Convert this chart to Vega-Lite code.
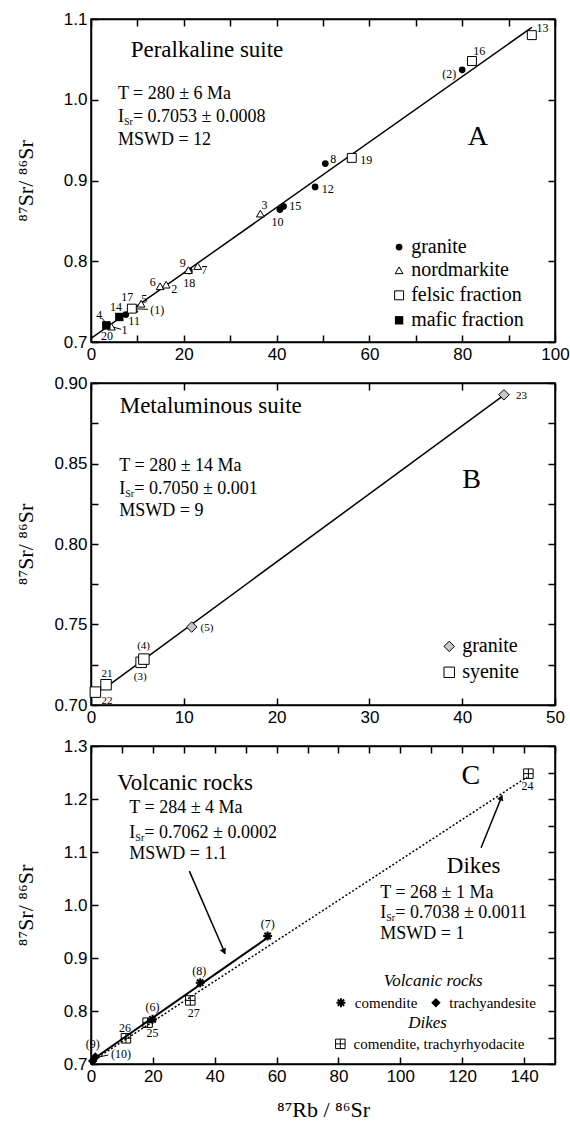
{
  "$schema": "https://vega.github.io/schema/vega-lite/v6.json",
  "padding": {"left": 13, "top": 9, "right": 5, "bottom": 8},
  "spacing": 41,
  "bounds": "flush",
  "config": {
    "view": {"stroke": "black", "strokeWidth": 1.5},
    "axis": {"grid": false, "domainColor": "black", "domainWidth": 1.5, "tickColor": "black", "tickWidth": 1.5, "tickSize": -7, "labelPadding": 11, "labelFont": "Liberation Sans", "labelFontSize": 17, "labelColor": "black", "titleFont": "Liberation Serif", "titleFontSize": 22, "titleFontWeight": "normal", "titleColor": "black", "labelFlush": false, "labelOverlap": false},
    "text": {"font": "Liberation Serif", "color": "black"}
  },
  "datasets": {
    "A": [
      {"g": "fit", "x": 0, "y": 0.7045}, {"g": "fit", "x": 95, "y": 1.0895},
      {"g": "granite", "x": 80.0, "y": 1.037}, {"g": "granite", "x": 50.5, "y": 0.921}, {"g": "granite", "x": 48.3, "y": 0.892}, {"g": "granite", "x": 41.5, "y": 0.868}, {"g": "granite", "x": 40.7, "y": 0.864}, {"g": "granite", "x": 21.2, "y": 0.788}, {"g": "granite", "x": 7.5, "y": 0.734}, {"g": "granite", "x": 66.4, "y": 0.8176},
      {"g": "nord", "x": 36.5, "y": 0.859}, {"g": "nord", "x": 21.0, "y": 0.789}, {"g": "nord", "x": 23.0, "y": 0.794}, {"g": "nord", "x": 14.9, "y": 0.769}, {"g": "nord", "x": 16.2, "y": 0.771}, {"g": "nord", "x": 10.8, "y": 0.7474}, {"g": "nord", "x": 9.3, "y": 0.7413}, {"g": "nord", "x": 3.9, "y": 0.7215}, {"g": "nord", "x": 4.4, "y": 0.719}, {"g": "nord", "x": 66.4, "y": 0.7888},
      {"g": "felsic", "x": 95.0, "y": 1.080}, {"g": "felsic", "x": 82.1, "y": 1.048}, {"g": "felsic", "x": 56.2, "y": 0.928}, {"g": "felsic", "x": 8.8, "y": 0.7413}, {"g": "felsic", "x": 66.4, "y": 0.7578},
      {"g": "mafic", "x": 6.1, "y": 0.731}, {"g": "mafic", "x": 3.3, "y": 0.7206}, {"g": "mafic", "x": 66.4, "y": 0.7269},
      {"g": "lead", "x": 9.9, "y": 0.741, "x2": 12.3, "y2": 0.7405}, {"g": "lead", "x": 4.7, "y": 0.7186, "x2": 6.5, "y2": 0.7157}, {"g": "lead", "x": 2.3, "y": 0.7297, "x2": 3.2, "y2": 0.7239},
      {"g": "lbl", "x": 97.3, "y": 1.0889, "text": "13"}, {"g": "lbl", "x": 83.7, "y": 1.060, "text": "16"}, {"g": "lbl", "x": 77.2, "y": 1.0323, "text": "(2)"}, {"g": "lbl", "x": 52.2, "y": 0.9263, "text": "8"}, {"g": "lbl", "x": 59.3, "y": 0.925, "text": "19"}, {"g": "lbl", "x": 51.0, "y": 0.8899, "text": "12"}, {"g": "lbl", "x": 44.0, "y": 0.8684, "text": "15"}, {"g": "lbl", "x": 37.4, "y": 0.8697, "text": "3"}, {"g": "lbl", "x": 40.2, "y": 0.8486, "text": "10"}, {"g": "lbl", "x": 19.8, "y": 0.7978, "text": "9"}, {"g": "lbl", "x": 24.4, "y": 0.7888, "text": "7"}, {"g": "lbl", "x": 21.2, "y": 0.7734, "text": "18"}, {"g": "lbl", "x": 13.3, "y": 0.7743, "text": "6"}, {"g": "lbl", "x": 17.95, "y": 0.7653, "text": "2"}, {"g": "lbl", "x": 11.5, "y": 0.7536, "text": "5"}, {"g": "lbl", "x": 14.3, "y": 0.7392, "text": "(1)"}, {"g": "lbl", "x": 7.8, "y": 0.7557, "text": "17"}, {"g": "lbl", "x": 5.4, "y": 0.7434, "text": "14"}, {"g": "lbl", "x": 9.3, "y": 0.7256, "text": "11"}, {"g": "lbl", "x": 1.8, "y": 0.733, "text": "4"}, {"g": "lbl", "x": 7.2, "y": 0.7145, "text": "1"}, {"g": "lbl", "x": 3.45, "y": 0.708, "text": "20"},
      {"g": "title", "x": 25, "y": 1.062, "text": "Peralkaline suite"},
      {"g": "stat", "x": 5.8, "y": 1.0076, "text": "T = 280 ± 6 Ma"}, {"g": "stat", "x": 5.8, "y": 0.9786, "text": "I"}, {"g": "sub", "x": 5.8, "y": 0.9786, "text": "Sr"}, {"g": "rest", "x": 5.8, "y": 0.9786, "text": "= 0.7053 ± 0.0008"}, {"g": "stat", "x": 5.8, "y": 0.9496, "text": "MSWD = 12"},
      {"g": "big", "x": 83.4, "y": 0.954, "text": "A"},
      {"g": "leg", "x": 69.0, "y": 0.8176, "text": "granite"}, {"g": "leg", "x": 69.0, "y": 0.7888, "text": "nordmarkite"}, {"g": "leg", "x": 69.0, "y": 0.7578, "text": "felsic fraction"}, {"g": "leg", "x": 69.0, "y": 0.7269, "text": "mafic fraction"}
    ],
    "B": [
      {"g": "fit", "x": 1.6, "y": 0.711}, {"g": "fit", "x": 44.5, "y": 0.8925},
      {"g": "gran", "x": 44.5, "y": 0.8927}, {"g": "gran", "x": 10.85, "y": 0.7484}, {"g": "gran", "x": 38.6, "y": 0.7364},
      {"g": "sye", "x": 5.4, "y": 0.7265}, {"g": "sye", "x": 5.7, "y": 0.7285}, {"g": "sye", "x": 1.62, "y": 0.7126}, {"g": "sye", "x": 0.47, "y": 0.708}, {"g": "sye", "x": 38.6, "y": 0.7203},
      {"g": "lbl", "x": 1.72, "y": 0.7194, "text": "21"}, {"g": "lbl", "x": 1.72, "y": 0.7027, "text": "22"}, {"g": "lbl", "x": 5.67, "y": 0.7368, "text": "(4)"}, {"g": "lbl", "x": 5.3, "y": 0.7174, "text": "(3)"}, {"g": "lbl", "x": 12.5, "y": 0.7478, "text": "(5)"}, {"g": "lbl", "x": 46.4, "y": 0.8921, "text": "23"},
      {"g": "title", "x": 12.9, "y": 0.886, "text": "Metaluminous suite"},
      {"g": "stat", "x": 3.05, "y": 0.8486, "text": "T = 280 ± 14 Ma"}, {"g": "stat", "x": 3.05, "y": 0.8342, "text": "I"}, {"g": "sub", "x": 3.05, "y": 0.8342, "text": "Sr"}, {"g": "rest", "x": 3.05, "y": 0.8342, "text": "= 0.7050 ± 0.001"}, {"g": "stat", "x": 3.05, "y": 0.8203, "text": "MSWD = 9"},
      {"g": "big", "x": 41.0, "y": 0.8396, "text": "B"},
      {"g": "leg", "x": 40.0, "y": 0.7364, "text": "granite"}, {"g": "leg", "x": 40.0, "y": 0.7203, "text": "syenite"}
    ],
    "C": [
      {"g": "vfit", "x": 0, "y": 0.7062}, {"g": "vfit", "x": 57.5, "y": 0.940},
      {"g": "dfit", "x": 0, "y": 0.7038}, {"g": "dfit", "x": 141, "y": 1.2414},
      {"g": "star", "x": 57.1, "y": 0.9415}, {"g": "star", "x": 35.3, "y": 0.8534}, {"g": "star", "x": 19.9, "y": 0.7843}, {"g": "star", "x": 80.8, "y": 0.8157},
      {"g": "dia", "x": 1.4, "y": 0.713}, {"g": "dia", "x": 0.55, "y": 0.7057}, {"g": "dia", "x": 111.5, "y": 0.8157},
      {"g": "dike", "x": 141.4, "y": 1.2478}, {"g": "dike", "x": 11.3, "y": 0.7485}, {"g": "dike", "x": 18.3, "y": 0.778}, {"g": "dike", "x": 32.1, "y": 0.820}, {"g": "dike", "x": 80.6, "y": 0.738},
      {"g": "lead", "x": 1.6, "y": 0.712, "x2": 5.6, "y2": 0.717},
      {"g": "arrow", "x": 31.8, "y": 1.064, "x2": 43.4, "y2": 0.908},
      {"g": "arrow", "x": 126.1, "y": 1.108, "x2": 132.9, "y2": 1.206},
      {"g": "head1", "x": 43.0, "y": 0.912},
      {"g": "head2", "x": 132.6, "y": 1.203},
      {"g": "lbl", "x": 57.1, "y": 0.965, "text": "(7)"}, {"g": "lbl", "x": 35.0, "y": 0.8755, "text": "(8)"}, {"g": "lbl", "x": 19.9, "y": 0.8075, "text": "(6)"}, {"g": "lbl", "x": 11.0, "y": 0.7685, "text": "26"}, {"g": "lbl", "x": 19.9, "y": 0.759, "text": "25"}, {"g": "lbl", "x": 33.2, "y": 0.7968, "text": "27"}, {"g": "lbl", "x": 141.1, "y": 1.2245, "text": "24"}, {"g": "lbl", "x": 0.6, "y": 0.737, "text": "(9)"}, {"g": "lbl", "x": 9.7, "y": 0.7183, "text": "(10)"},
      {"g": "title", "x": 30.4, "y": 1.2308, "text": "Volcanic rocks"}, {"g": "title", "x": 123.7, "y": 1.0736, "text": "Dikes"},
      {"g": "stat", "x": 12.4, "y": 1.1825, "text": "T = 284 ± 4 Ma"}, {"g": "stat", "x": 12.4, "y": 1.1364, "text": "I"}, {"g": "sub", "x": 12.4, "y": 1.1364, "text": "Sr"}, {"g": "rest", "x": 12.4, "y": 1.1364, "text": "= 0.7062 ± 0.0002"}, {"g": "stat", "x": 12.4, "y": 1.0957, "text": "MSWD = 1.1"},
      {"g": "stat", "x": 93.5, "y": 1.0232, "text": "T = 268 ± 1 Ma"}, {"g": "stat", "x": 93.5, "y": 0.9855, "text": "I"}, {"g": "sub", "x": 93.5, "y": 0.9855, "text": "Sr"}, {"g": "rest", "x": 93.5, "y": 0.9855, "text": "= 0.7038 ± 0.0011"}, {"g": "stat", "x": 93.5, "y": 0.9447, "text": "MSWD = 1"},
      {"g": "big", "x": 122.8, "y": 1.2434, "text": "C"},
      {"g": "legh", "x": 110.6, "y": 0.8566, "text": "Volcanic rocks"}, {"g": "legh", "x": 108.8, "y": 0.778, "text": "Dikes"},
      {"g": "leg", "x": 85.3, "y": 0.8157, "text": "comendite"}, {"g": "leg", "x": 115.8, "y": 0.8157, "text": "trachyandesite"}, {"g": "leg", "x": 84.9, "y": 0.738, "text": "comendite, trachyrhyodacite"}
    ]
  },
  "vconcat": [
    {
      "width": 464, "height": 323,
      "data": {"name": "A"},
      "resolve": {"axis": {"x": "independent", "y": "independent"}},
      "layer": [
        {"layer": [
          {"mark": {"type": "line", "color": "black", "strokeWidth": 1.5},
           "transform": [{"filter": "datum.g == 'fit'"}],
           "encoding": {
             "x": {"field": "x", "type": "quantitative", "scale": {"domain": [0, 100], "nice": false, "zero": false},
                   "axis": {"orient": "bottom", "values": [0, 10, 20, 30, 40, 50, 60, 70, 80, 90, 100], "labelExpr": "datum.value % 20 == 0 ? datum.label : ''", "title": null}},
             "y": {"field": "y", "type": "quantitative", "scale": {"domain": [0.7, 1.1], "nice": false, "zero": false},
                   "axis": {"orient": "left", "values": [0.7, 0.8, 0.9, 1.0, 1.1], "format": ".1f", "title": "⁸⁷Sr/ ⁸⁶Sr", "titleX": -66, "titleY": 161.5, "titleAlign": "center", "titleBaseline": "middle", "titleAngle": -90}}}},
          {"mark": {"type": "rule", "color": "black", "strokeWidth": 1}, "transform": [{"filter": "datum.g == 'lead'"}],
           "encoding": {"x": {"field": "x", "type": "quantitative"}, "y": {"field": "y", "type": "quantitative"}, "x2": {"field": "x2"}, "y2": {"field": "y2"}}},
          {"mark": {"type": "point", "shape": "circle", "filled": true, "color": "black", "size": 45, "opacity": 1}, "transform": [{"filter": "datum.g == 'granite'"}],
           "encoding": {"x": {"field": "x", "type": "quantitative"}, "y": {"field": "y", "type": "quantitative"}}},
          {"mark": {"type": "point", "shape": "triangle-up", "filled": true, "fill": "white", "stroke": "black", "strokeWidth": 1, "size": 60, "opacity": 1}, "transform": [{"filter": "datum.g == 'nord'"}],
           "encoding": {"x": {"field": "x", "type": "quantitative"}, "y": {"field": "y", "type": "quantitative"}}},
          {"mark": {"type": "point", "shape": "square", "filled": true, "fill": "white", "stroke": "black", "strokeWidth": 1, "size": 80, "opacity": 1}, "transform": [{"filter": "datum.g == 'felsic'"}],
           "encoding": {"x": {"field": "x", "type": "quantitative"}, "y": {"field": "y", "type": "quantitative"}}},
          {"mark": {"type": "point", "shape": "square", "filled": true, "color": "black", "size": 70, "opacity": 1}, "transform": [{"filter": "datum.g == 'mafic'"}],
           "encoding": {"x": {"field": "x", "type": "quantitative"}, "y": {"field": "y", "type": "quantitative"}}},
          {"mark": {"type": "text", "fontSize": 12, "align": "center", "baseline": "middle"}, "transform": [{"filter": "datum.g == 'lbl'"}],
           "encoding": {"x": {"field": "x", "type": "quantitative"}, "y": {"field": "y", "type": "quantitative"}, "text": {"field": "text"}}},
          {"mark": {"type": "text", "fontSize": 23, "align": "center", "baseline": "middle"}, "transform": [{"filter": "datum.g == 'title'"}],
           "encoding": {"x": {"field": "x", "type": "quantitative"}, "y": {"field": "y", "type": "quantitative"}, "text": {"field": "text"}}},
          {"mark": {"type": "text", "fontSize": 18, "align": "left", "baseline": "middle"}, "transform": [{"filter": "datum.g == 'stat'"}],
           "encoding": {"x": {"field": "x", "type": "quantitative"}, "y": {"field": "y", "type": "quantitative"}, "text": {"field": "text"}}},
          {"mark": {"type": "text", "fontSize": 10, "align": "left", "baseline": "middle", "dx": 6, "dy": 5}, "transform": [{"filter": "datum.g == 'sub'"}],
           "encoding": {"x": {"field": "x", "type": "quantitative"}, "y": {"field": "y", "type": "quantitative"}, "text": {"field": "text"}}},
          {"mark": {"type": "text", "fontSize": 18, "align": "left", "baseline": "middle", "dx": 15}, "transform": [{"filter": "datum.g == 'rest'"}],
           "encoding": {"x": {"field": "x", "type": "quantitative"}, "y": {"field": "y", "type": "quantitative"}, "text": {"field": "text"}}},
          {"mark": {"type": "text", "fontSize": 28, "align": "center", "baseline": "middle"}, "transform": [{"filter": "datum.g == 'big'"}],
           "encoding": {"x": {"field": "x", "type": "quantitative"}, "y": {"field": "y", "type": "quantitative"}, "text": {"field": "text"}}},
          {"mark": {"type": "text", "fontSize": 20, "align": "left", "baseline": "middle"}, "transform": [{"filter": "datum.g == 'leg'"}],
           "encoding": {"x": {"field": "x", "type": "quantitative"}, "y": {"field": "y", "type": "quantitative"}, "text": {"field": "text"}}}
        ]},
        {"mark": {"type": "point", "opacity": 0}, "transform": [{"filter": "datum.g == 'fit'"}],
         "encoding": {
           "x": {"field": "x", "type": "quantitative", "axis": {"orient": "top", "values": [0, 10, 20, 30, 40, 50, 60, 70, 80, 90, 100], "labels": false, "title": null}},
           "y": {"field": "y", "type": "quantitative", "axis": {"orient": "right", "values": [0.7, 0.8, 0.9, 1.0, 1.1], "labels": false, "title": null}}}}
      ]
    },
    {
      "width": 464, "height": 322,
      "data": {"name": "B"},
      "resolve": {"axis": {"x": "independent", "y": "independent"}},
      "layer": [
        {"layer": [
          {"mark": {"type": "line", "color": "black", "strokeWidth": 1.5},
           "transform": [{"filter": "datum.g == 'fit'"}],
           "encoding": {
             "x": {"field": "x", "type": "quantitative", "scale": {"domain": [0, 50], "nice": false, "zero": false},
                   "axis": {"orient": "bottom", "values": [0, 10, 20, 30, 40, 50], "title": null}},
             "y": {"field": "y", "type": "quantitative", "scale": {"domain": [0.7, 0.9], "nice": false, "zero": false},
                   "axis": {"orient": "left", "values": [0.7, 0.725, 0.75, 0.775, 0.8, 0.825, 0.85, 0.875, 0.9], "labelExpr": "round(datum.value * 1000) % 50 == 0 ? format(datum.value, '.2f') : ''", "title": "⁸⁷Sr/ ⁸⁶Sr", "titleX": -66, "titleY": 161, "titleAlign": "center", "titleBaseline": "middle", "titleAngle": -90}}}},
          {"mark": {"type": "point", "shape": "diamond", "filled": true, "fill": "#c8c8c8", "stroke": "black", "strokeWidth": 1, "size": 110, "opacity": 1}, "transform": [{"filter": "datum.g == 'gran'"}],
           "encoding": {"x": {"field": "x", "type": "quantitative"}, "y": {"field": "y", "type": "quantitative"}}},
          {"mark": {"type": "point", "shape": "square", "filled": true, "fill": "white", "stroke": "black", "strokeWidth": 1, "size": 110, "opacity": 1}, "transform": [{"filter": "datum.g == 'sye'"}],
           "encoding": {"x": {"field": "x", "type": "quantitative"}, "y": {"field": "y", "type": "quantitative"}}},
          {"mark": {"type": "text", "fontSize": 11, "align": "center", "baseline": "middle"}, "transform": [{"filter": "datum.g == 'lbl'"}],
           "encoding": {"x": {"field": "x", "type": "quantitative"}, "y": {"field": "y", "type": "quantitative"}, "text": {"field": "text"}}},
          {"mark": {"type": "text", "fontSize": 23, "align": "center", "baseline": "middle"}, "transform": [{"filter": "datum.g == 'title'"}],
           "encoding": {"x": {"field": "x", "type": "quantitative"}, "y": {"field": "y", "type": "quantitative"}, "text": {"field": "text"}}},
          {"mark": {"type": "text", "fontSize": 18, "align": "left", "baseline": "middle"}, "transform": [{"filter": "datum.g == 'stat'"}],
           "encoding": {"x": {"field": "x", "type": "quantitative"}, "y": {"field": "y", "type": "quantitative"}, "text": {"field": "text"}}},
          {"mark": {"type": "text", "fontSize": 10, "align": "left", "baseline": "middle", "dx": 6, "dy": 5}, "transform": [{"filter": "datum.g == 'sub'"}],
           "encoding": {"x": {"field": "x", "type": "quantitative"}, "y": {"field": "y", "type": "quantitative"}, "text": {"field": "text"}}},
          {"mark": {"type": "text", "fontSize": 18, "align": "left", "baseline": "middle", "dx": 15}, "transform": [{"filter": "datum.g == 'rest'"}],
           "encoding": {"x": {"field": "x", "type": "quantitative"}, "y": {"field": "y", "type": "quantitative"}, "text": {"field": "text"}}},
          {"mark": {"type": "text", "fontSize": 28, "align": "center", "baseline": "middle"}, "transform": [{"filter": "datum.g == 'big'"}],
           "encoding": {"x": {"field": "x", "type": "quantitative"}, "y": {"field": "y", "type": "quantitative"}, "text": {"field": "text"}}},
          {"mark": {"type": "text", "fontSize": 20, "align": "left", "baseline": "middle"}, "transform": [{"filter": "datum.g == 'leg'"}],
           "encoding": {"x": {"field": "x", "type": "quantitative"}, "y": {"field": "y", "type": "quantitative"}, "text": {"field": "text"}}}
        ]},
        {"mark": {"type": "point", "opacity": 0}, "transform": [{"filter": "datum.g == 'fit'"}],
         "encoding": {
           "x": {"field": "x", "type": "quantitative", "axis": {"orient": "top", "values": [0, 10, 20, 30, 40, 50], "labels": false, "title": null}},
           "y": {"field": "y", "type": "quantitative", "axis": {"orient": "right", "values": [0.7, 0.725, 0.75, 0.775, 0.8, 0.825, 0.85, 0.875, 0.9], "labels": false, "title": null}}}}
      ]
    },
    {
      "width": 464, "height": 318,
      "data": {"name": "C"},
      "resolve": {"axis": {"x": "independent", "y": "independent"}},
      "layer": [
        {"layer": [
          {"mark": {"type": "line", "color": "black", "strokeWidth": 2},
           "transform": [{"filter": "datum.g == 'vfit'"}],
           "encoding": {
             "x": {"field": "x", "type": "quantitative", "scale": {"domain": [0, 150], "nice": false, "zero": false},
                   "axis": {"orient": "bottom", "values": [0, 10, 20, 30, 40, 50, 60, 70, 80, 90, 100, 110, 120, 130, 140, 150], "labelExpr": "datum.value % 20 == 0 ? datum.label : ''", "title": "⁸⁷Rb / ⁸⁶Sr", "titleX": 232, "titleY": 45, "titleAlign": "center", "titleBaseline": "middle"}},
             "y": {"field": "y", "type": "quantitative", "scale": {"domain": [0.7, 1.3], "nice": false, "zero": false},
                   "axis": {"orient": "left", "values": [0.7, 0.75, 0.8, 0.85, 0.9, 0.95, 1.0, 1.05, 1.1, 1.15, 1.2, 1.25, 1.3], "labelExpr": "round(datum.value * 100) % 10 == 0 ? format(datum.value, '.1f') : ''", "title": "⁸⁷Sr/ ⁸⁶Sr", "titleX": -66, "titleY": 159, "titleAlign": "center", "titleBaseline": "middle", "titleAngle": -90}}}},
          {"mark": {"type": "line", "color": "black", "strokeWidth": 1.5, "strokeDash": [2, 2]},
           "transform": [{"filter": "datum.g == 'dfit'"}],
           "encoding": {"x": {"field": "x", "type": "quantitative"}, "y": {"field": "y", "type": "quantitative"}}},
          {"mark": {"type": "rule", "color": "black", "strokeWidth": 1}, "transform": [{"filter": "datum.g == 'lead'"}],
           "encoding": {"x": {"field": "x", "type": "quantitative"}, "y": {"field": "y", "type": "quantitative"}, "x2": {"field": "x2"}, "y2": {"field": "y2"}}},
          {"mark": {"type": "rule", "color": "black", "strokeWidth": 1.5}, "transform": [{"filter": "datum.g == 'arrow'"}],
           "encoding": {"x": {"field": "x", "type": "quantitative"}, "y": {"field": "y", "type": "quantitative"}, "x2": {"field": "x2"}, "y2": {"field": "y2"}}},
          {"mark": {"type": "point", "shape": "triangle-up", "filled": true, "color": "black", "size": 45, "angle": 157, "opacity": 1}, "transform": [{"filter": "datum.g == 'head1'"}],
           "encoding": {"x": {"field": "x", "type": "quantitative"}, "y": {"field": "y", "type": "quantitative"}}},
          {"mark": {"type": "point", "shape": "triangle-up", "filled": true, "color": "black", "size": 45, "angle": 21, "opacity": 1}, "transform": [{"filter": "datum.g == 'head2'"}],
           "encoding": {"x": {"field": "x", "type": "quantitative"}, "y": {"field": "y", "type": "quantitative"}}},
          {"mark": {"type": "point", "shape": "M-1,-1H1V1H-1ZM0,-1V1M-1,0H1", "filled": false, "stroke": "black", "strokeWidth": 1, "size": 90, "opacity": 1}, "transform": [{"filter": "datum.g == 'dike'"}],
           "encoding": {"x": {"field": "x", "type": "quantitative"}, "y": {"field": "y", "type": "quantitative"}}},
          {"mark": {"type": "point", "shape": "M0,-1V1M-1,0H1M-0.71,-0.71L0.71,0.71M-0.71,0.71L0.71,-0.71", "filled": false, "stroke": "black", "strokeWidth": 2, "size": 80, "opacity": 1}, "transform": [{"filter": "datum.g == 'star'"}],
           "encoding": {"x": {"field": "x", "type": "quantitative"}, "y": {"field": "y", "type": "quantitative"}}},
          {"mark": {"type": "point", "shape": "diamond", "filled": true, "color": "black", "size": 90, "opacity": 1}, "transform": [{"filter": "datum.g == 'dia'"}],
           "encoding": {"x": {"field": "x", "type": "quantitative"}, "y": {"field": "y", "type": "quantitative"}}},
          {"mark": {"type": "text", "fontSize": 12, "align": "center", "baseline": "middle"}, "transform": [{"filter": "datum.g == 'lbl'"}],
           "encoding": {"x": {"field": "x", "type": "quantitative"}, "y": {"field": "y", "type": "quantitative"}, "text": {"field": "text"}}},
          {"mark": {"type": "text", "fontSize": 23, "align": "center", "baseline": "middle"}, "transform": [{"filter": "datum.g == 'title'"}],
           "encoding": {"x": {"field": "x", "type": "quantitative"}, "y": {"field": "y", "type": "quantitative"}, "text": {"field": "text"}}},
          {"mark": {"type": "text", "fontSize": 18, "align": "left", "baseline": "middle"}, "transform": [{"filter": "datum.g == 'stat'"}],
           "encoding": {"x": {"field": "x", "type": "quantitative"}, "y": {"field": "y", "type": "quantitative"}, "text": {"field": "text"}}},
          {"mark": {"type": "text", "fontSize": 10, "align": "left", "baseline": "middle", "dx": 6, "dy": 5}, "transform": [{"filter": "datum.g == 'sub'"}],
           "encoding": {"x": {"field": "x", "type": "quantitative"}, "y": {"field": "y", "type": "quantitative"}, "text": {"field": "text"}}},
          {"mark": {"type": "text", "fontSize": 18, "align": "left", "baseline": "middle", "dx": 15}, "transform": [{"filter": "datum.g == 'rest'"}],
           "encoding": {"x": {"field": "x", "type": "quantitative"}, "y": {"field": "y", "type": "quantitative"}, "text": {"field": "text"}}},
          {"mark": {"type": "text", "fontSize": 28, "align": "center", "baseline": "middle"}, "transform": [{"filter": "datum.g == 'big'"}],
           "encoding": {"x": {"field": "x", "type": "quantitative"}, "y": {"field": "y", "type": "quantitative"}, "text": {"field": "text"}}},
          {"mark": {"type": "text", "fontSize": 17, "fontStyle": "italic", "align": "center", "baseline": "middle"}, "transform": [{"filter": "datum.g == 'legh'"}],
           "encoding": {"x": {"field": "x", "type": "quantitative"}, "y": {"field": "y", "type": "quantitative"}, "text": {"field": "text"}}},
          {"mark": {"type": "text", "fontSize": 15, "align": "left", "baseline": "middle"}, "transform": [{"filter": "datum.g == 'leg'"}],
           "encoding": {"x": {"field": "x", "type": "quantitative"}, "y": {"field": "y", "type": "quantitative"}, "text": {"field": "text"}}}
        ]},
        {"mark": {"type": "point", "opacity": 0}, "transform": [{"filter": "datum.g == 'vfit'"}],
         "encoding": {
           "x": {"field": "x", "type": "quantitative", "axis": {"orient": "top", "values": [0, 10, 20, 30, 40, 50, 60, 70, 80, 90, 100, 110, 120, 130, 140, 150], "labels": false, "title": null}},
           "y": {"field": "y", "type": "quantitative", "axis": {"orient": "right", "values": [0.7, 0.75, 0.8, 0.85, 0.9, 0.95, 1.0, 1.05, 1.1, 1.15, 1.2, 1.25, 1.3], "labels": false, "title": null}}}}
      ]
    }
  ]
}
